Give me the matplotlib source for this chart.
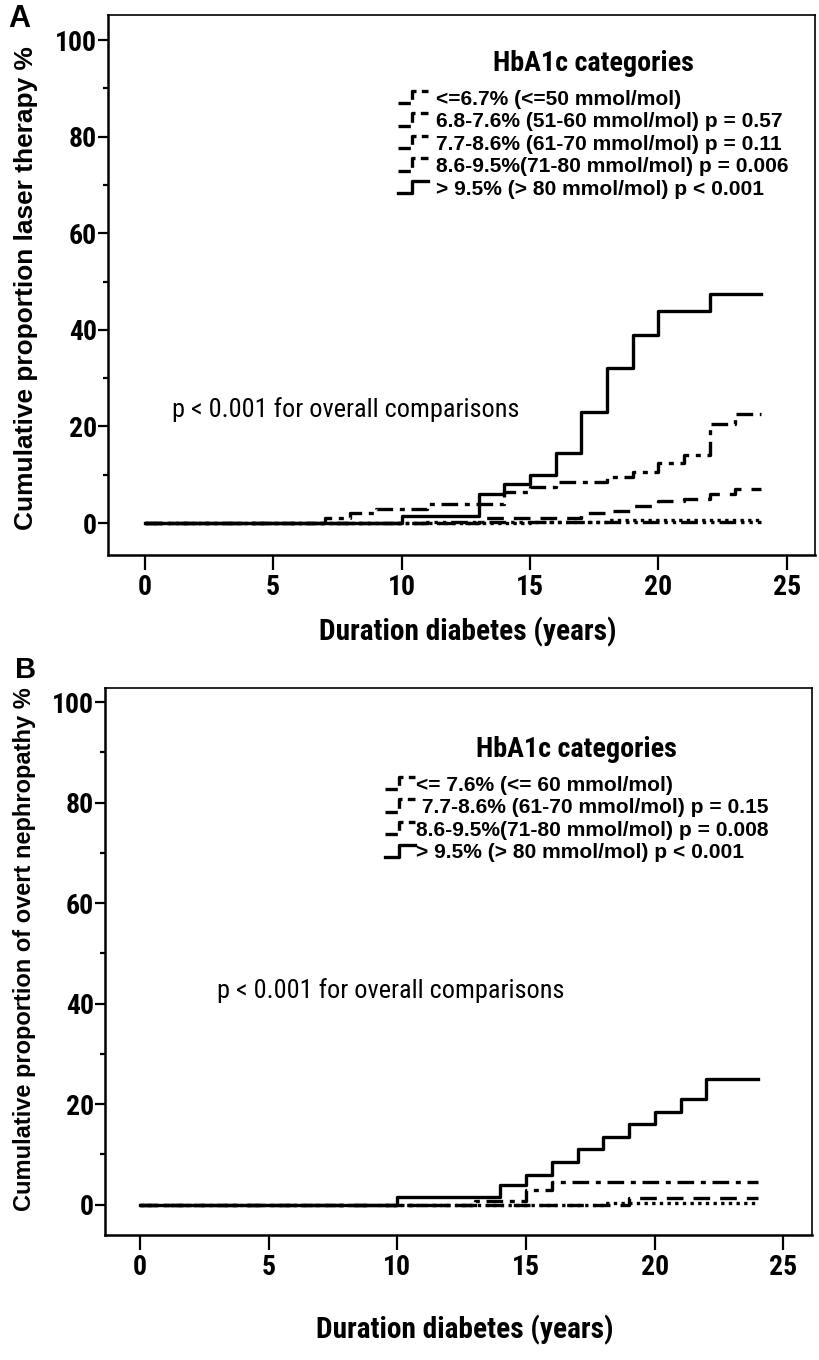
import matplotlib
matplotlib.use('Agg')
import matplotlib.pyplot as plt
from matplotlib.lines import Line2D
from matplotlib.legend_handler import HandlerBase
from matplotlib import font_manager as fm

# --- panel A: laser therapy (years, cumulative %) ---
a_labels = ["<=6.7% (<=50 mmol/mol)",
            "6.8-7.6% (51-60 mmol/mol) p = 0.57",
            "7.7-8.6% (61-70 mmol/mol) p = 0.11",
            "8.6-9.5%(71-80 mmol/mol) p = 0.006",
            "> 9.5% (> 80 mmol/mol) p < 0.001"]
a_yrs_le67 = [0, 11, 24]
a_cum_le67 = [0, 0.2, 0.2]
a_yrs_68_76 = [0, 15, 18, 24]
a_cum_68_76 = [0, 0.3, 0.6, 0.6]
a_yrs_77_86 = [0, 13, 17, 18, 19, 20, 21, 22, 23, 24]
a_cum_77_86 = [0, 1, 2, 2.5, 3.5, 4.5, 5, 6, 7, 7]
a_yrs_86_95 = [0, 7, 8, 9, 11, 14, 15, 16, 18, 19, 20, 21, 22, 23, 24]
a_cum_86_95 = [0, 1, 2, 3, 4, 6.5, 7.5, 8.5, 9.5, 10.5, 12.5, 14, 20.5, 22.5, 22.5]
a_yrs_gt95 = [0, 10, 13, 14, 15, 16, 17, 18, 19, 20, 22, 24]
a_cum_gt95 = [0, 1.5, 6, 8, 10, 14.5, 23, 32, 39, 44, 47.5, 47.5]

# --- panel B: overt nephropathy ---
b_labels = ["<= 7.6% (<= 60 mmol/mol)",
            " 7.7-8.6% (61-70 mmol/mol) p = 0.15",
            "8.6-9.5%(71-80 mmol/mol) p = 0.008",
            "> 9.5% (> 80 mmol/mol) p < 0.001"]
b_yrs_le76 = [0, 18, 24]
b_cum_le76 = [0, 0.3, 0.3]
b_yrs_77_86 = [0, 19, 24]
b_cum_77_86 = [0, 1.3, 1.3]
b_yrs_86_95 = [0, 13, 15, 16, 24]
b_cum_86_95 = [0, 0.8, 3, 4.6, 4.6]
b_yrs_gt95 = [0, 10, 14, 15, 16, 17, 18, 19, 20, 21, 22, 24]
b_cum_gt95 = [0, 1.5, 4, 6, 8.5, 11, 13.5, 16, 18.5, 21, 25, 25]

x_ticks = [0, 5, 10, 15, 20, 25]
y_ticks = [0, 20, 40, 60, 80, 100]
overall_txt = 'p < 0.001 for overall comparisons'

# styles: dash-dot-dot, dotted, dashed, dash-dot, solid
STY = [(0, (5, 1.5, 1, 1.5, 1, 1.5)), (0, (1, 1.3)), (0, (5, 3)), (0, (5, 2, 1.5, 2)), '-']

ttf = fm.fontManager.ttflist


def has_bold(name):
    return any(f.name == name and f.weight in (700, 'bold') for f in ttf)


NARROW = dict(family='DejaVu Sans', stretch='condensed')
for cand in ['Liberation Sans Narrow', 'Arial Narrow', 'Roboto Condensed', 'Fira Sans Condensed']:
    if has_bold(cand):
        NARROW = dict(family=cand)
        break
names = {f.name for f in ttf}
ARIAL = 'Liberation Sans' if 'Liberation Sans' in names else 'DejaVu Sans'

fig = plt.figure(figsize=(8.2, 13.6), dpi=100)
R = fig.canvas.get_renderer()


def fit_size(s, target, rot=0, **kw):
    # font size that makes string s about target px long
    t = fig.text(0, 0, s, fontsize=12, rotation=rot, **kw)
    for _ in range(3):
        bb = t.get_window_extent(R)
        cur = bb.height if rot else bb.width
        t.set_fontsize(t.get_fontsize() * target / cur)
    size = t.get_fontsize()
    t.remove()
    return size


TICK_FS = fit_size('100', 42, weight='bold', **NARROW)
XLAB_FS = fit_size('Duration diabetes (years)', 298, weight='bold', **NARROW)
LEG_FS = fit_size(a_labels[1], 345, family=ARIAL, weight='bold')
TITLE_FS = fit_size('HbA1c categories', 200, weight='bold', **NARROW)
NOTE_FS = fit_size(overall_txt, 348, **NARROW)
YLAB_A_FS = fit_size('Cumulative proportion laser therapy %', 485, rot=90, family=ARIAL, weight='bold')
YLAB_B_FS = fit_size('Cumulative proportion of overt nephropathy %', 524, rot=90, family=ARIAL, weight='bold')


class StepHandler(HandlerBase):
    # legend sample drawn as a small step, like SPSS
    def create_artists(self, legend, orig, xd, yd, w, h, fontsize, trans):
        xs = [xd, xd + 0.45 * w, xd + 0.45 * w, xd + w]
        ys = [yd + 0.1 * h, yd + 0.1 * h, yd + 0.95 * h, yd + 0.95 * h]
        ln = Line2D(xs, ys, color='black', lw=orig.get_linewidth(), linestyle=orig.get_linestyle())
        ln.set_transform(trans)
        return [ln]


def style_axes(ax, ylabel, ylab_fs, xlim, ylim, xlab_xy, ylab_xy):
    ax.set_xlim(*xlim)
    ax.set_ylim(*ylim)
    ax.set_xticks(x_ticks)
    ax.set_yticks(y_ticks)
    ax.set_yticks(range(10, 100, 20), minor=True)
    ax.tick_params(axis='x', direction='out', length=11, width=1.6, pad=3)
    ax.tick_params(axis='y', which='major', direction='out', length=7, width=1.6, pad=1)
    ax.tick_params(axis='y', which='minor', direction='out', length=3.5, width=1.6)
    for t in ax.get_xticklabels() + ax.get_yticklabels():
        t.set_fontproperties(fm.FontProperties(weight='bold', size=TICK_FS, **NARROW))
    for s in ['left', 'bottom']:
        ax.spines[s].set_linewidth(1.8)
    for s in ['top', 'right']:
        ax.spines[s].set_linewidth(1.2)
    ax.set_ylabel(ylabel, fontsize=ylab_fs, family=ARIAL, weight='bold')
    ax.yaxis.set_label_coords(*ylab_xy)
    ax.set_xlabel('Duration diabetes (years)', weight='bold', fontsize=XLAB_FS, **NARROW)
    ax.xaxis.set_label_coords(*xlab_xy)
    ax.xaxis.label.set_va('center')
    ax.yaxis.label.set_va('center')


def make_legend(ax, handles, anchor, textpad):
    leg = ax.legend(handles=handles, loc='upper left', bbox_to_anchor=anchor, frameon=False,
                    title='HbA1c categories', handler_map={Line2D: StepHandler()},
                    handlelength=1.45, handletextpad=textpad, labelspacing=0.17,
                    borderaxespad=0, borderpad=0,
                    prop={'family': ARIAL, 'weight': 'bold', 'size': LEG_FS})
    leg.get_title().set_fontproperties(fm.FontProperties(weight='bold', size=TITLE_FS, **NARROW))
    leg._legend_box.sep = 9
    return leg


# panel A
axA = fig.add_axes([0.132, 0.592, 0.862, 0.397])
a_series = [(a_yrs_le67, a_cum_le67), (a_yrs_68_76, a_cum_68_76), (a_yrs_77_86, a_cum_77_86),
            (a_yrs_86_95, a_cum_86_95), (a_yrs_gt95, a_cum_gt95)]
hA = []
for (xs, ys), ls, lab in zip(a_series, STY, a_labels):
    h, = axA.step(xs, ys, where='post', color='black', lw=2.4, linestyle=ls, label=lab)
    hA.append(h)
style_axes(axA, 'Cumulative proportion laser therapy %', YLAB_A_FS, (-1.42, 26.1), (-6.6, 105.2),
           (0.509, -0.143), (-0.116, 0.494))
make_legend(axA, hA, (0.41, 0.935), 0.35)
axA.text(1.07, 23.4, overall_txt, fontsize=NOTE_FS, va='center', **NARROW)
fig.text(0.010, 0.997, 'A', family=ARIAL, weight='bold', fontsize=22, va='top')

# panel B
axB = fig.add_axes([0.128, 0.092, 0.862, 0.402])
b_series = [(b_yrs_le76, b_cum_le76), (b_yrs_77_86, b_cum_77_86),
            (b_yrs_86_95, b_cum_86_95), (b_yrs_gt95, b_cum_gt95)]
hB = []
for (xs, ys), ls, lab in zip(b_series, STY[1:], b_labels):
    h, = axB.step(xs, ys, where='post', color='black', lw=2.4, linestyle=ls, label=lab)
    hB.append(h)
style_axes(axB, 'Cumulative proportion of overt nephropathy %', YLAB_B_FS, (-1.36, 26.1), (-6.0, 102.8),
           (0.509, -0.174), (-0.114, 0.522))
make_legend(axB, hB, (0.396, 0.912), 0.05)
axB.text(3.0, 42.7, overall_txt, fontsize=NOTE_FS, va='center', **NARROW)
fig.text(0.018, 0.518, 'B', family=ARIAL, weight='bold', fontsize=21, va='top')

fig.savefig('out.png', dpi=100)
